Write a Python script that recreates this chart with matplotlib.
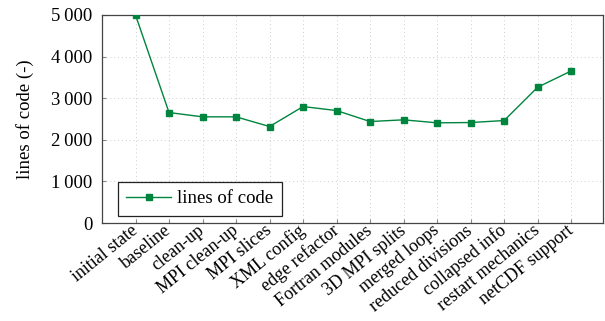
import matplotlib.pyplot as plt
from matplotlib.ticker import FuncFormatter

plt.rcParams['font.family'] = ['Liberation Serif', 'DejaVu Serif']

stages = ['initial state', 'baseline', 'clean-up', 'MPI clean-up', 'MPI slices',
          'XML config', 'edge refactor', 'Fortran modules', '3D MPI splits',
          'merged loops', 'reduced divisions', 'collapsed info',
          'restart mechanics', 'netCDF support']
loc = [5000, 2655, 2552, 2552, 2319, 2799, 2703, 2439, 2480, 2408, 2415,
       2463, 3264, 3655]

green = '#00853e'
fs = 13.5

fig = plt.figure(figsize=(6.05, 3.21), dpi=100)
ax = fig.add_axes([102 / 605, 1 - 223 / 321, 501 / 605, 208 / 321])

x = list(range(len(stages)))
ax.plot(x, loc, color=green, lw=1.0, marker='s', markersize=5,
        label='lines of code', zorder=3)

ax.set_xlim(-1, 13.95)
ax.set_ylim(0, 5000)
ax.set_xticks(x)
ax.set_xticklabels(stages, rotation=39, ha='right', va='center',
                   rotation_mode='anchor', fontsize=13)
ax.set_yticks([0, 1000, 2000, 3000, 4000, 5000])
ax.yaxis.set_major_formatter(
    FuncFormatter(lambda v, p: f'{int(v):,}'.replace(',', '\u2009')))
ax.tick_params(axis='y', labelsize=fs, direction='in', length=3,
               color='#888888', pad=7)
ax.tick_params(axis='x', direction='in', length=3, color='#888888', pad=4)
ax.set_ylabel('lines of code (-)', fontsize=fs, labelpad=12)

ax.grid(True, color='#cccccc', linestyle=(0, (1, 3)), lw=0.7)
for s in ax.spines.values():
    s.set_color('#444444')
    s.set_linewidth(0.9)

leg = ax.legend(loc='lower left', bbox_to_anchor=(0.032, 0.034), fontsize=fs,
                fancybox=False, framealpha=1, edgecolor='#222222',
                handlelength=2.35, borderpad=0.45, handletextpad=0.35,
                borderaxespad=0)
leg.get_frame().set_linewidth(0.9)

fig.savefig('out.png', dpi=100)
